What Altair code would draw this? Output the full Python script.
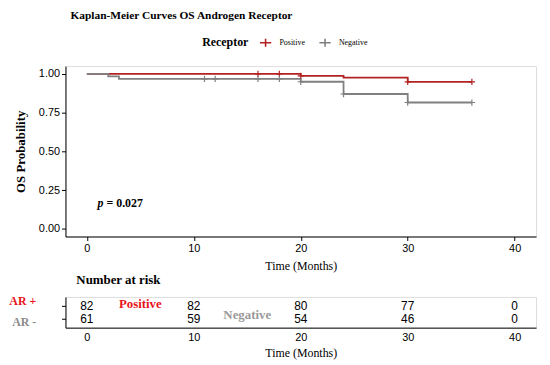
import altair as alt
import pandas as pd

# ---- data ----
groups = ["Positive", "Negative"]
colors = ["#B22222", "#808080"]

pos_time = [0, 20, 24, 30, 36]
pos_surv = [1.0, 0.987, 0.975, 0.948, 0.948]
neg_time = [0, 2, 3, 20, 24, 30, 36]
neg_surv = [1.0, 0.984, 0.967, 0.949, 0.870, 0.815, 0.815]

pos_cens_time = [16, 18, 20, 30, 36]
pos_cens_surv = [1.0, 1.0, 0.987, 0.948, 0.948]
neg_cens_time = [11, 12, 16, 18, 20, 24, 30, 36]
neg_cens_surv = [0.967, 0.967, 0.967, 0.967, 0.949, 0.870, 0.815, 0.815]

risk_times = [0, 10, 20, 30, 40]
risk_pos = [82, 82, 80, 77, 0]
risk_neg = [61, 59, 54, 46, 0]
row_labels = ["AR +", "AR -"]

x_ticks = [0, 10, 20, 30, 40]
y_ticks = [0, 0.25, 0.5, 0.75, 1.0]

SERIF = "Liberation Serif"
SANS = "Liberation Sans"

pos_df = pd.DataFrame({"time": pos_time, "surv": pos_surv, "Receptor": "Positive"})
neg_df = pd.DataFrame({"time": neg_time, "surv": neg_surv, "Receptor": "Negative"})
cens_df = pd.concat([
    pd.DataFrame({"time": pos_cens_time, "surv": pos_cens_surv, "Receptor": "Positive"}),
    pd.DataFrame({"time": neg_cens_time, "surv": neg_cens_surv, "Receptor": "Negative"}),
])

xscale = alt.Scale(domain=[-2, 42], nice=False, zero=False)
yscale = alt.Scale(domain=[-0.05, 1.05], nice=False, zero=False)
cscale = alt.Scale(domain=groups, range=colors)

x_main = alt.X("time:Q", scale=xscale, title="Time (Months)",
               axis=alt.Axis(values=x_ticks, grid=False, tickSize=4, labelPadding=2,
                             titlePadding=7, labelFont=SANS, labelFontSize=11,
                             titleFont=SERIF, titleFontSize=12, titleFontWeight="normal",
                             domainColor="black", tickColor="black", labelColor="black"))
y_main = alt.Y("surv:Q", scale=yscale, title="OS Probability",
               axis=alt.Axis(values=y_ticks, format=".2f", grid=False, tickSize=4,
                             labelPadding=2, titlePadding=11, labelFont=SANS, labelFontSize=11,
                             titleFont=SERIF, titleFontSize=13, titleFontWeight="bold",
                             domainColor="black", tickColor="black", labelColor="black"))

legend = alt.Legend(orient="none", legendX=138, legendY=-31, direction="horizontal",
                    titleOrient="left", title="Receptor", titleFont=SERIF, titleFontSize=12,
                    titleFontWeight="bold", titlePadding=10, labelFont=SERIF, labelFontSize=8,
                    symbolType="M-1,0L1,0M0,-0.7L0,0.7", symbolSize=130, symbolStrokeWidth=1.6,
                    symbolFillColor="transparent", columnPadding=11, labelOffset=7)

color_enc = alt.Color("Receptor:N", scale=cscale, legend=legend)

line_pos = alt.Chart(pos_df).mark_line(interpolate="step-after", strokeWidth=1.8).encode(
    x=x_main, y=y_main, color=color_enc)
line_neg = alt.Chart(neg_df).mark_line(interpolate="step-after", strokeWidth=1.8).encode(
    x=x_main, y=y_main, color=color_enc)
cens = alt.Chart(cens_df).mark_point(shape="M-1,0L1,0M0,-1L0,1", size=40, filled=False,
                                     strokeWidth=1.2, opacity=1).encode(
    x=x_main, y=y_main, color=color_enc)

p_df = pd.DataFrame({"time": [1.0], "surv": [0.167]})
p_text = alt.Chart(p_df).mark_text(text="p", font=SERIF, fontSize=12, fontWeight="bold",
                                   fontStyle="italic", align="left", baseline="middle").encode(
    x=alt.X("time:Q", scale=xscale), y=alt.Y("surv:Q", scale=yscale))
p_val = alt.Chart(p_df).mark_text(text="= 0.027", font=SERIF, fontSize=12, fontWeight="bold",
                                  align="left", baseline="middle", dx=9).encode(
    x=alt.X("time:Q", scale=xscale), y=alt.Y("surv:Q", scale=yscale))

main = alt.layer(line_pos, line_neg, cens, p_text, p_val).properties(
    width=475, height=172,
    title=alt.TitleParams("Kaplan-Meier Curves OS Androgen Receptor", anchor="start",
                          frame="group", dx=5, offset=45, font=SERIF, fontSize=11.5,
                          fontWeight="bold", color="black"))

# ---- risk table ----
risk_df = pd.concat([
    pd.DataFrame({"time": risk_times, "n": risk_pos, "row": row_labels[0]}),
    pd.DataFrame({"time": risk_times, "n": risk_neg, "row": row_labels[1]}),
])
strata_df = pd.DataFrame({"time": [5, 15], "row": row_labels, "lab": groups,
                          "Receptor": groups})

x_tab = alt.X("time:Q", scale=xscale, title="Time (Months)",
              axis=alt.Axis(values=x_ticks, grid=False, ticks=False, labelPadding=4,
                            titlePadding=5, labelFont=SANS, labelFontSize=11,
                            titleFont=SERIF, titleFontSize=12, titleFontWeight="normal",
                            domainColor="black", labelColor="black"))
y_tab = alt.Y("row:N", sort=row_labels, title=None,
              scale=alt.Scale(type="point", padding=0.69),
              axis=alt.Axis(grid=False, tickSize=4, labelPadding=26, labelFont=SERIF,
                            labelFontSize=12, labelFontWeight="bold",
                            labelColor=alt.expr("datum.label == 'AR +' ? '#E8141B' : '#8C8C8C'"),
                            labelOffset=alt.expr("datum.label == 'AR +' ? -5 : 3"),
                            domainColor="black", tickColor="black"))

nums = alt.Chart(risk_df).mark_text(font=SANS, fontSize=12, color="black",
                                    baseline="middle").encode(
    x=x_tab, y=y_tab, text="n:Q")
strata_pos = alt.Chart(strata_df[strata_df.lab == "Positive"]).mark_text(
    font=SERIF, fontSize=13, fontWeight="bold", color="#E8141B", baseline="middle", dy=-2).encode(
    x=x_tab, y=y_tab, text="lab:N")
strata_neg = alt.Chart(strata_df[strata_df.lab == "Negative"]).mark_text(
    font=SERIF, fontSize=13, fontWeight="bold", color="#999999", baseline="middle", dy=-4).encode(
    x=x_tab, y=y_tab, text="lab:N")

table = alt.layer(nums, strata_pos, strata_neg).properties(
    width=475, height=31,
    title=alt.TitleParams("Number at risk", anchor="start", frame="group", dx=11, offset=8,
                          font=SERIF, fontSize=13, fontWeight="bold", color="black"))

chart = alt.vconcat(main, table, spacing=1).properties(
    padding={"left": 0, "top": 0, "right": 5, "bottom": 0}
).configure_view(stroke=None).configure(background="white")

chart.save("out.html", embed_options={"renderer": "svg", "actions": False})
